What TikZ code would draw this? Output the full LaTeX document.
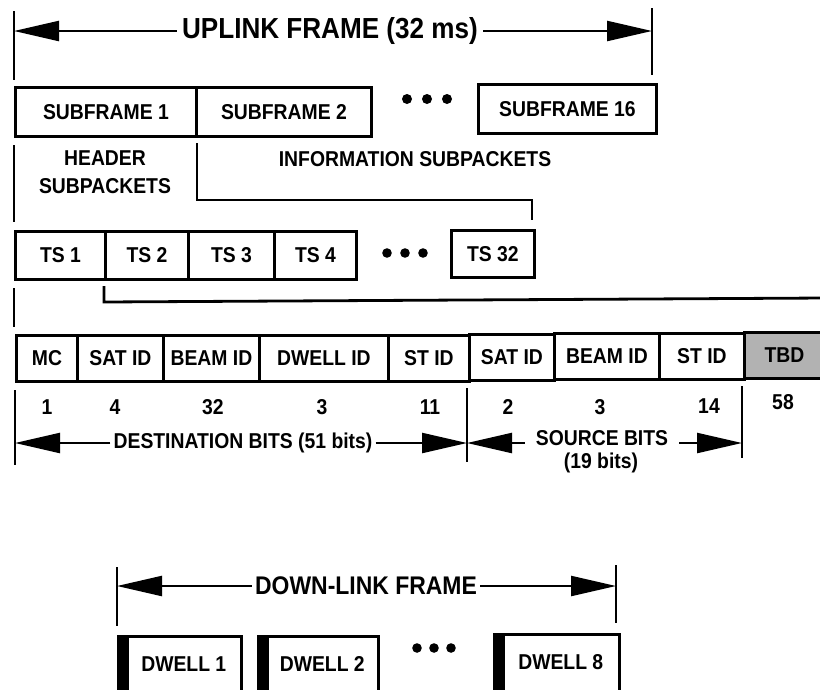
\documentclass[tikz,border=0pt]{standalone}
\usepackage{fontspec}
\setmainfont{Liberation Sans}
\newfontfamily\condsans{Liberation Sans}[FakeStretch=0.9]
\usetikzlibrary{arrows.meta}
\newcommand\lab{\condsans\fontsize{21.5}{28}\selectfont\bfseries}
\newcommand\uplab{\condsans\fontsize{29}{30}\selectfont\bfseries}
\newcommand\dnlab{\condsans\fontsize{25.5}{27}\selectfont\bfseries}
\definecolor{tbdgray}{gray}{0.7}
\begin{document}
\begin{tikzpicture}[x=1pt,y=-1pt,
  sbox/.style={draw, line width=2.9pt, inner sep=0pt, anchor=north west, font=\lab},
  bar/.style={line width=2.8pt},
  arr/.style={line width=2.3pt, -{Triangle[length=45pt,width=20pt]}},
  txt/.style={font=\lab, inner sep=3pt},
  dwellbox/.style={draw, line width=2.6pt, anchor=north west, inner sep=0pt,
    text height=35pt, text depth=40pt, font=\lab,
    path picture={\fill (path picture bounding box.north west) rectangle
      ([xshift=11pt]path picture bounding box.south west);}}]
\useasboundingbox (0,0) rectangle (820,689);

% ---------- uplink frame ----------
\node[font=\uplab, inner sep=5pt] (uplink) at (330,31) {UPLINK FRAME (32 ms)};
\coordinate (upL) at (14,31);
\coordinate (upR) at (652,31);
\draw[bar] (14,11) -- (14,80);
\draw[bar] (652,8) -- (652,75);
\draw[arr] (uplink.west) -- (upL);
\draw[arr] (uplink.east) -- (upR);

% ---------- subframes ----------
\node[sbox, minimum width=181pt, minimum height=49pt] (sf1) at (14,86) {SUBFRAME 1};
\node[sbox, minimum width=175pt, minimum height=49pt] (sf2) at (195,86) {SUBFRAME 2};
\node[sbox, minimum width=178pt, minimum height=49pt] (sf16) at (477,83) {SUBFRAME 16};
\foreach \x in {407,427,447} \fill (\x,99) circle (5pt);

% ---------- header / information ----------
\draw[bar] (14,145) -- (14,222);
\node[txt, align=center] (hdr) at (105,172) {HEADER\\SUBPACKETS};
\node[txt] (info) at (415,159) {INFORMATION SUBPACKETS};
\draw[bar] (197,143) -- (197,200) -- (532,200) -- (532,220);

% ---------- time slots ----------
\node[sbox, minimum width=90pt, minimum height=48pt] (ts1) at (14,230) {TS 1};
\node[sbox, minimum width=83pt, minimum height=48pt] (ts2) at (104,230) {TS 2};
\node[sbox, minimum width=86pt, minimum height=48pt] (ts3) at (187,230) {TS 3};
\node[sbox, minimum width=82pt, minimum height=48pt] (ts4) at (273,230) {TS 4};
\node[sbox, minimum width=83pt, minimum height=47pt] (ts32) at (450,229) {TS 32};
\foreach \x in {387,405,423} \fill (\x,253) circle (4.8pt);

\draw[bar] (14,288) -- (14,327);
\draw[bar] (104,286) -- (104,302) -- (825,298);

% ---------- fields ----------
\node[sbox, minimum width=61pt, minimum height=46pt] (mc) at (15,334) {MC};
\node[sbox, minimum width=86pt, minimum height=46pt] (dsat) at (76,334) {SAT ID};
\node[sbox, minimum width=96pt, minimum height=46pt] (dbeam) at (162,334) {BEAM ID};
\node[sbox, minimum width=129pt, minimum height=46pt] (ddwell) at (258,334) {DWELL ID};
\node[sbox, minimum width=81pt, minimum height=46pt] (dst) at (387,334) {ST ID};
\node[sbox, minimum width=85pt, minimum height=46pt] (ssat) at (468,333) {SAT ID};
\node[sbox, minimum width=105pt, minimum height=46pt] (sbeam) at (553,332) {BEAM ID};
\node[sbox, minimum width=85pt, minimum height=46pt] (sst) at (658,332) {ST ID};
\node[sbox, minimum width=80pt, minimum height=46pt, fill=tbdgray] (tbd) at (743,331) {TBD};

% ---------- bit counts ----------
\node[txt] (n1) at (47,407) {1};
\node[txt] (n2) at (115,407) {4};
\node[txt] (n3) at (213,407) {32};
\node[txt] (n4) at (322,407) {3};
\node[txt] (n5) at (430,407) {11};
\node[txt] (n6) at (508,407) {2};
\node[txt] (n7) at (600,407) {3};
\node[txt] (n8) at (709,406) {14};
\node[txt] (n9) at (783,402) {58};

% ---------- destination / source ----------
\draw[bar] (15,390) -- (15,465);
\draw[bar] (467,388) -- (467,462);
\draw[bar] (742,386) -- (742,458);
\coordinate (dL) at (15,443);
\coordinate (dM) at (467,443);
\coordinate (dR) at (742,443);
\node[txt] (dest) at (243,443) {DESTINATION BITS (51 bits)};
\draw[arr] (dest.west) -- (dL);
\draw[arr] (dest.east) -- (dM);
\node[txt] (src) at (602,438) {SOURCE BITS};
\node[txt] (srcb) at (601,463) {(19 bits)};
\draw[arr] ([xshift=-8pt,yshift=-5pt]src.west) -- (dM);
\draw[arr] ([xshift=8pt,yshift=-5pt]src.east) -- (dR);

% ---------- down-link frame ----------
\node[font=\dnlab, inner sep=3pt] (down) at (366,586) {DOWN-LINK FRAME};
\draw[bar] (117,567) -- (117,626);
\draw[bar] (616,565) -- (616,623);
\coordinate (dnL) at (117,586);
\coordinate (dnR) at (616,586);
\draw[arr] (down.west) -- (dnL);
\draw[arr] (down.east) -- (dnR);

\node[dwellbox, minimum width=123pt] (dw1) at (117,635) {\hspace*{8pt}DWELL 1};
\node[dwellbox, minimum width=120pt] (dw2) at (257,635) {\hspace*{8pt}DWELL 2};
\node[dwellbox, minimum width=125pt] (dw8) at (493,633) {\hspace*{8pt}DWELL 8};
\foreach \x in {417,434,451} \fill (\x,648) circle (4.8pt);
\end{tikzpicture}
\end{document}
